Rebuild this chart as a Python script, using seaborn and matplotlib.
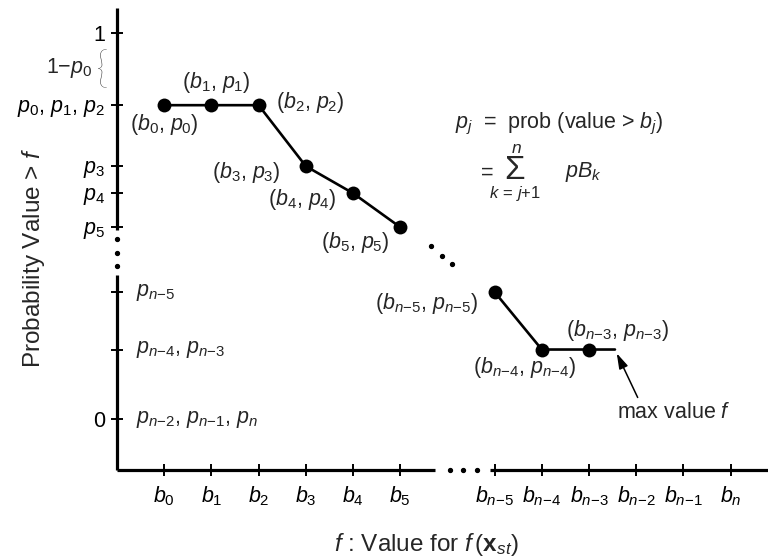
import numpy as np
import pandas as pd
import seaborn as sns
import matplotlib.pyplot as plt

# positions of the break points on the f axis (b_0..b_5, gap, b_{n-5}..b_n)
b_pos = [1, 2, 3, 4, 5, 6, 8, 9, 10, 11, 12, 13]
b_labels = [r'$b_0$', r'$b_1$', r'$b_2$', r'$b_3$', r'$b_4$', r'$b_5$',
            r'$b_{n{-}5}$', r'$b_{n{-}4}$', r'$b_{n{-}3}$', r'$b_{n{-}2}$',
            r'$b_{n{-}1}$', r'$b_n$']

# probability values
p_first = [0.813, 0.813, 0.813, 0.655, 0.585, 0.497]   # p_0 .. p_5
p_last = [0.329, 0.180, 0.180]                          # p_{n-5} .. p_{n-3}
max_f = 10.55                                           # curve stops at max value f

first_names = ['0', '1', '2', '3', '4', '5']
last_names = ['n{-}5', 'n{-}4', 'n{-}3']

# point label offsets in pixels (dx, dy) from each point
first_offsets = [(0, -19), (5, 23), (52, 3), (-59, -6), (-51, -6), (-45, -15)]
last_offsets = [(-68, -11), (-17, -18), (29, 19)]

sns.set_style("white")
plt.rcParams['font.family'] = ['Liberation Sans', 'DejaVu Sans']
plt.rcParams.update({
    'mathtext.fontset': 'custom',
    'mathtext.rm': 'Liberation Sans',
    'mathtext.it': 'Liberation Sans:italic',
    'mathtext.bf': 'Liberation Sans:bold',
    'mathtext.sf': 'Liberation Sans',
    'mathtext.fallback': 'stixsans',
})
fs = 15.5
fs_lab = 17.5

df = pd.DataFrame({
    'f': b_pos[:6] + b_pos[6:9] + [max_f],
    'prob': p_first + p_last + [p_last[-1]],
    'seg': ['first'] * 6 + ['last'] * 4,
})
pts = df.iloc[:-1]

fig = plt.figure(figsize=(7.68, 5.58), dpi=100)
ax = fig.add_axes([117 / 768, 88 / 558, 651 / 768, 462 / 558])
x0, x1 = 0, 651 / 47.2
y0, y1 = -51 / 386, 411 / 386
ax.set_xlim(x0, x1)
ax.set_ylim(y0, y1)

sns.lineplot(data=df, x='f', y='prob', units='seg', estimator=None, sort=False,
             color='black', lw=1.9, ax=ax)
sns.scatterplot(data=pts, x='f', y='prob', color='black', s=100, edgecolor='black',
                linewidth=0, zorder=5, ax=ax)
# dots between the two parts of the curve
ax.plot([6.65, 6.89, 7.10], [0.448, 0.422, 0.401], 'o', color='black', ms=2.8)

# broken axes
for s in ax.spines.values():
    s.set_visible(False)
axkw = dict(color='black', lw=2.3, clip_on=False, solid_capstyle='butt')
ax.plot([0, 0], [y1, 0.49], **axkw)
ax.plot([0, 0], [0.373, y0], **axkw)
ax.plot([0, 0, 0], [0.466, 0.430, 0.396], 'o', color='black', ms=2.8, clip_on=False)
ax.plot([0, 6.74], [y0, y0], **axkw)
ax.plot([7.90, x1], [y0, y0], **axkw)
ax.plot([7.06, 7.33, 7.63], [y0] * 3, 'o', color='black', ms=2.8, clip_on=False)

# ticks
ax.set_xticks(b_pos)
ax.set_xticklabels(b_labels, fontsize=fs)
yt = [0, p_last[1], p_last[0], p_first[5], p_first[4], p_first[3], p_first[0], 1]
ytl = ['0', '', '', r'$p_5$', r'$p_4$', r'$p_3$', r'$p_0$, $p_1$, $p_2$', '1']
ax.set_yticks(yt)
ax.set_yticklabels(ytl, fontsize=fs)
ax.tick_params(axis='both', direction='inout', length=9, width=1.4, color='black',
               labelcolor='black', bottom=True, left=True)
ax.tick_params(axis='x', pad=6)
ax.tick_params(axis='y', pad=4)

# labels for the lower ticks, written inside the axis
for y, t in zip([p_last[0], p_last[1], 0],
                [r'$p_{n{-}5}$', r'$p_{n{-}4}$, $p_{n{-}3}$',
                 r'$p_{n{-}2}$, $p_{n{-}1}$, $p_n$']):
    ax.text(0.40, y, t, fontsize=fs, ha='left', va='center')

# 1 - p_0 bracket
ax.text(-0.52, 0.909, r'1$-$$p_0$', fontsize=fs, ha='right', va='center')
ax.text(-0.32, 0.902, '{', fontsize=31, ha='center', va='center',
        family=['Lato', 'DejaVu Sans'], fontweight='light')

# point labels
for x, y, n, off in zip(b_pos[:6], p_first, first_names, first_offsets):
    ax.annotate(rf'($b_{{{n}}}$, $p_{{{n}}}$)', (x, y), xytext=off,
                textcoords='offset pixels', ha='center', va='center', fontsize=fs)
for x, y, n, off in zip(b_pos[6:9], p_last, last_names, last_offsets):
    ax.annotate(rf'($b_{{{n}}}$, $p_{{{n}}}$)', (x, y), xytext=off,
                textcoords='offset pixels', ha='center', va='center', fontsize=fs)

ax.annotate(r'max value $f$', (max_f, p_last[-1]), xytext=(59, -63),
            textcoords='offset pixels', ha='center', va='center', fontsize=fs,
            arrowprops=dict(arrowstyle='-|>,head_length=0.6,head_width=0.18',
                            color='black', lw=1.1, shrinkA=1, shrinkB=3,
                            relpos=(0.2, 1.0)))

# formula
ax.text(7.16, 0.764, r'$p_j$  =  prob (value > $b_j$)', fontsize=fs,
        ha='left', va='center')
ax.text(7.84, 0.638, '=', fontsize=fs, ha='center', va='center')
ax.text(8.43, 0.645, 'Σ', fontsize=24, ha='center', va='center')
ax.text(8.47, 0.701, r'$n$', fontsize=12.5, ha='center', va='center')
ax.text(8.43, 0.583, r'$k\,=\,j{+}1$', fontsize=12, ha='center', va='center')
ax.text(9.5, 0.640, r'$pB_k$', fontsize=fs, ha='left', va='center')

ax.set_xlabel(r'$f$ : Value for $f\,(\mathbf{x}_{st})$', fontsize=fs_lab)
ax.xaxis.set_label_coords(0.475, -0.162)
ax.xaxis.label.set_va('center')
ax.set_ylabel(r'Probability Value > $f$', fontsize=fs_lab)
ax.yaxis.set_label_coords(-0.129, 0.459)
ax.yaxis.label.set_va('center')

fig.savefig('out.png', dpi=100, facecolor='white')
